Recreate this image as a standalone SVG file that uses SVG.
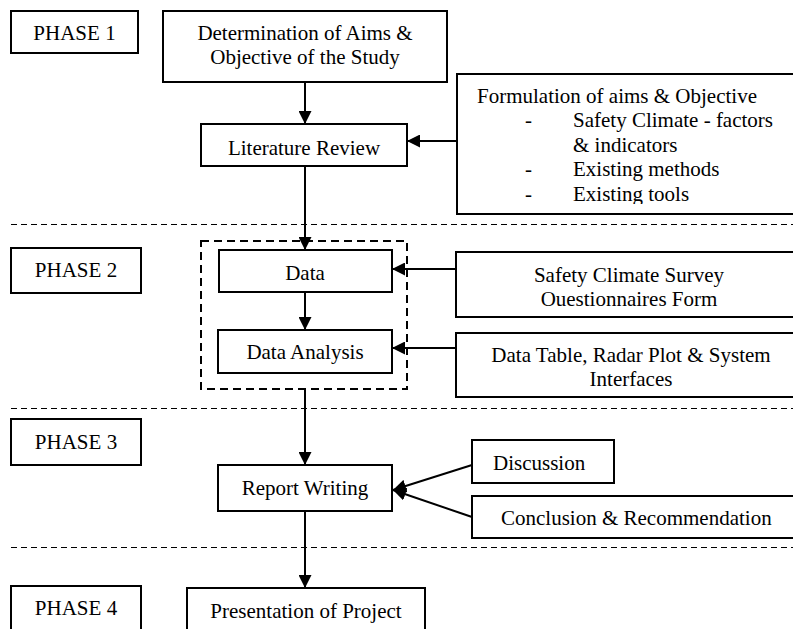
<svg xmlns="http://www.w3.org/2000/svg" width="793" height="629" viewBox="0 0 793 629">
<style>
  .box { fill: #fff; stroke: #000; stroke-width: 2; }
  .t { font-family: "Liberation Serif", "Times New Roman", serif; font-size: 21px; fill: #000; }
  .c { text-anchor: middle; }
  .sep { stroke: #000; stroke-width: 1; stroke-dasharray: 6 4; fill: none; }
  .grp { stroke: #000; stroke-width: 2; stroke-dasharray: 8 5; fill: none; }
  .conn { stroke: #000; stroke-width: 2; fill: none; marker-end: url(#ah); }
</style>
<defs>
  <marker id="ah" viewBox="0 0 13 13" refX="13" refY="6.5" markerWidth="13" markerHeight="13" orient="auto" markerUnits="userSpaceOnUse">
    <path d="M0,0 L13,6.5 L0,13 z" fill="#000"/>
  </marker>
  <clipPath id="formClip"><rect x="456" y="74" width="340" height="130"/></clipPath>
</defs>
<rect width="793" height="629" fill="#fff"/>

<g id="separators">
  <line class="sep" x1="11" y1="224.5" x2="793" y2="224.5"/>
  <line class="sep" x1="11" y1="408.5" x2="793" y2="408.5"/>
  <line class="sep" x1="11" y1="547.5" x2="793" y2="547.5"/>
</g>

<g id="phase1">
  <rect class="box" x="11" y="11" width="127" height="42"/>
  <text class="t c" x="74.5" y="40">PHASE 1</text>
</g>
<g id="phase2">
  <rect class="box" x="11" y="248" width="130" height="45"/>
  <text class="t c" x="76" y="277">PHASE 2</text>
</g>
<g id="phase3">
  <rect class="box" x="11" y="419" width="130" height="46"/>
  <text class="t c" x="76" y="449">PHASE 3</text>
</g>
<g id="phase4">
  <rect class="box" x="11" y="586" width="130" height="50"/>
  <text class="t c" x="76" y="615">PHASE 4</text>
</g>

<g id="determination">
  <rect class="box" x="163" y="11" width="284" height="71"/>
  <text class="t c" x="305" y="40">Determination of Aims &amp;</text>
  <text class="t c" x="305" y="64">Objective of the Study</text>
</g>

<g id="literature">
  <rect class="box" x="201" y="124" width="206" height="42"/>
  <text class="t c" x="304" y="155">Literature Review</text>
</g>

<g id="formulation">
  <rect class="box" x="457" y="74" width="345" height="140"/>
  <g clip-path="url(#formClip)">
    <text class="t" x="477" y="103">Formulation of aims &amp; Objective</text>
    <text class="t" x="525" y="127">-</text>
    <text class="t" x="573" y="127">Safety Climate - factors</text>
    <text class="t" x="573" y="152">&amp; indicators</text>
    <text class="t" x="525" y="176">-</text>
    <text class="t" x="573" y="176">Existing methods</text>
    <text class="t" x="525" y="201">-</text>
    <text class="t" x="573" y="201">Existing tools</text>
  </g>
</g>

<g id="dataGroup">
  <rect class="grp" x="201" y="241" width="206" height="148"/>
</g>

<g id="data">
  <rect class="box" x="219" y="250" width="173" height="42"/>
  <text class="t c" x="305" y="280">Data</text>
</g>

<g id="dataAnalysis">
  <rect class="box" x="218" y="330" width="174" height="43"/>
  <text class="t c" x="305" y="359">Data Analysis</text>
</g>

<g id="survey">
  <rect class="box" x="456" y="252" width="345" height="65"/>
  <text class="t c" x="629" y="282">Safety Climate Survey</text>
  <text class="t c" x="629" y="306">Ouestionnaires Form</text>
</g>

<g id="dataTable">
  <rect class="box" x="456" y="333" width="345" height="64"/>
  <text class="t c" x="631" y="362">Data Table, Radar Plot &amp; System</text>
  <text class="t c" x="631" y="386">Interfaces</text>
</g>

<g id="report">
  <rect class="box" x="218" y="465" width="174" height="46"/>
  <text class="t c" x="305" y="495">Report Writing</text>
</g>

<g id="discussion">
  <rect class="box" x="472" y="440" width="142" height="43"/>
  <text class="t" x="493" y="470">Discussion</text>
</g>

<g id="conclusion">
  <rect class="box" x="472" y="496" width="330" height="42"/>
  <text class="t" x="501" y="525">Conclusion &amp; Recommendation</text>
</g>

<g id="presentation">
  <rect class="box" x="187" y="588" width="238" height="50"/>
  <text class="t c" x="306" y="618">Presentation of Project</text>
</g>

<g id="connectors">
  <path class="conn" d="M305,82 V124"/>
  <path class="conn" d="M457,141 H407"/>
  <path class="conn" d="M305,166 V250"/>
  <path class="conn" d="M456,269 H392"/>
  <path class="conn" d="M305,292 V330"/>
  <path class="conn" d="M456,348 H392"/>
  <path class="conn" d="M305,389 V465"/>
  <path class="conn" d="M472,465 L393,490"/>
  <path class="conn" d="M472,517 L393,490"/>
  <path class="conn" d="M305,511 V588"/>
</g>
</svg>
